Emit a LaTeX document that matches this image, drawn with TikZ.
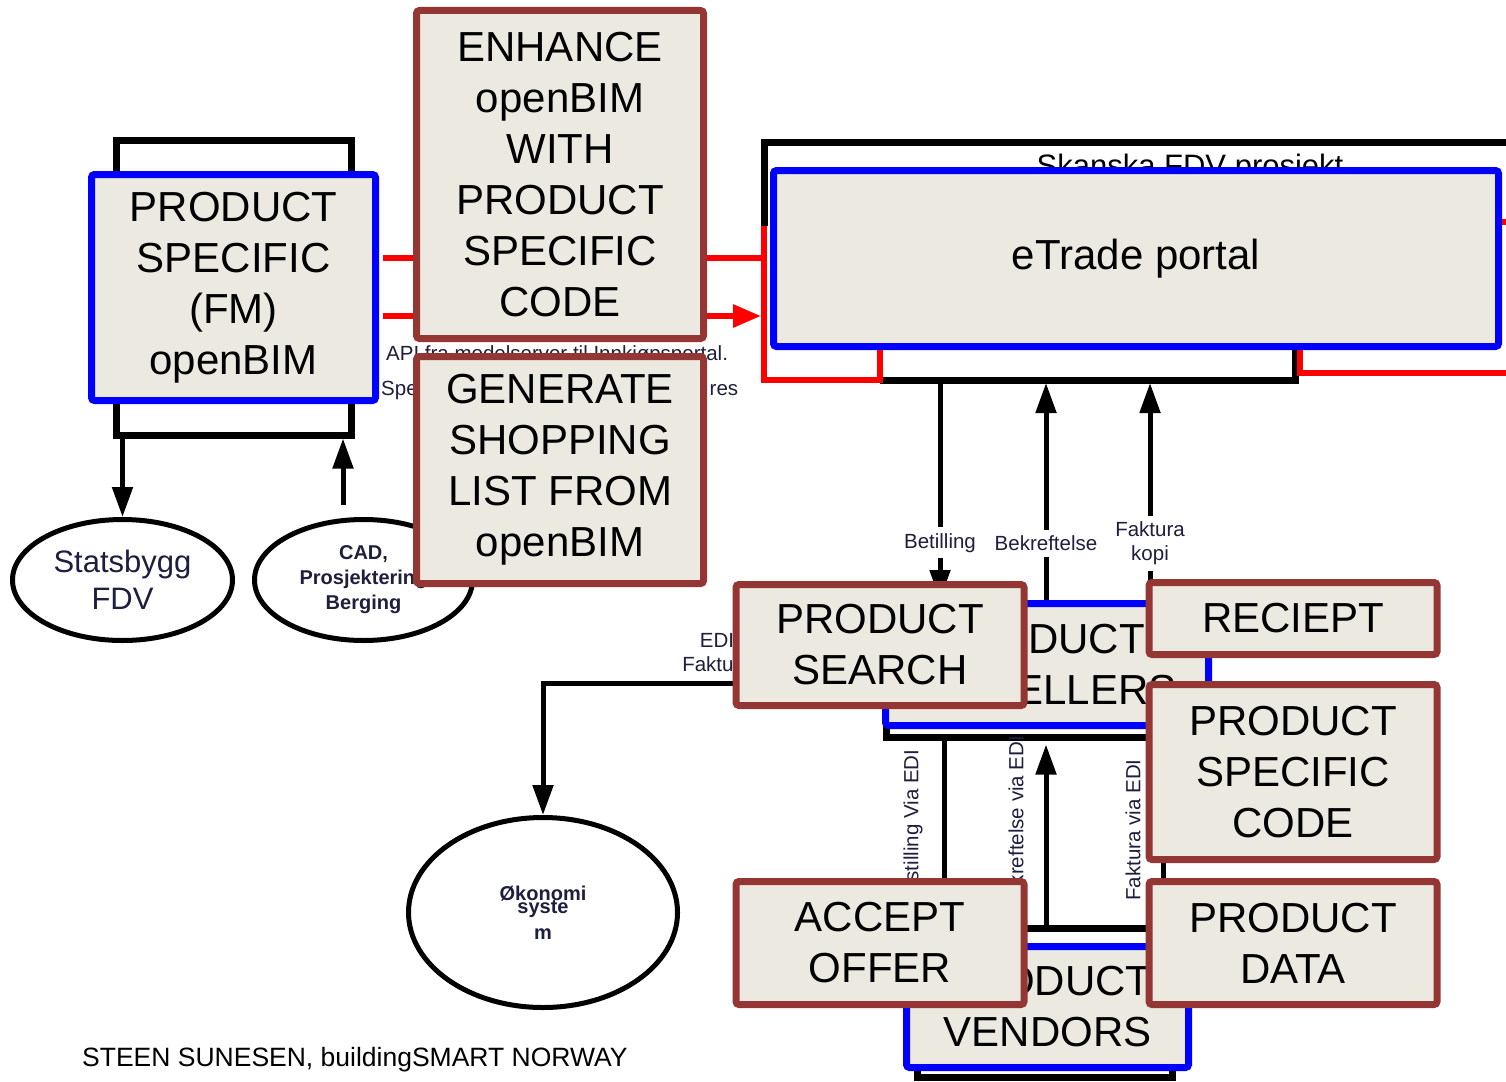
\documentclass[tikz,border=0pt]{standalone}
\usepackage{fontspec}
\setmainfont{Liberation Sans}
\usetikzlibrary{shapes.geometric,arrows.meta}
\definecolor{taskred}{RGB}{148,54,52}
\definecolor{boxfill}{RGB}{236,234,224}
\definecolor{navy}{RGB}{30,30,62}
\newcommand{\boxfont}{\fontsize{42}{51}\selectfont}
\newcommand{\lblfont}{\fontsize{20.5}{24}\selectfont}
\newcommand{\okofont}{\fontsize{20}{13}\selectfont\bfseries\lineskiplimit=-50pt}
\tikzstyle{task}=[draw=taskred, line width=7pt, fill=boxfill, rounded corners=3pt, inner sep=0pt, align=center, font=\boxfont, minimum width=288pt]
\tikzstyle{sysbox}=[draw=blue, line width=7pt, fill=boxfill, rounded corners=3pt, inner sep=0pt, align=center, font=\boxfont]
\tikzstyle{bframe}=[draw, line width=7pt, inner sep=0pt]
\tikzstyle{party}=[ellipse, draw, line width=5pt, inner sep=0pt, align=center, text=navy]
\tikzstyle{lbl}=[font=\lblfont, text=navy, align=center, inner sep=0pt]
\tikzstyle{lblgap}=[fill=white, inner sep=6pt]
\tikzstyle{arr}=[draw, line width=5pt, -{Triangle[width=20pt,length=30pt]}]
\tikzstyle{redline}=[draw=red, line width=6pt]
\providecommand{\task}{\node[task]}
\providecommand{\sysbox}{\node[sysbox]}

\begin{document}
\begin{tikzpicture}[x=1pt,y=-1pt]
\useasboundingbox[fill=white] (0,0) rectangle (1506,1081);

% frames behind the systems
\node[bframe, minimum width=235pt, minimum height=295pt] (fmframe) at (233.5,287.5) {};
\node[bframe, minimum width=299pt, minimum height=97pt] (sellersframe) at (1035.5,688.5) {};
\node[bframe, minimum width=255pt, minimum height=149pt] (vendorsframe) at (1044.5,1002.5) {};
\draw[line width=7pt] (764,226) -- (764,142) -- (1510,142);
\draw[line width=7pt] (880,380) -- (1295,380) -- (1295,349);
\draw[redline] (764,226) -- (764,380) -- (880,380) -- (880,349);
\draw[redline] (1300,349) -- (1300,373) -- (1510,373);
\draw[redline] (1502,222) -- (1510,222);

% texts under the boxes
\node[font=\fontsize{31}{35}\selectfont, anchor=base, inner sep=0pt] (skanska) at (1190,176) {Skanska FDV prosjekt};
\node[lbl, anchor=west] (api) at (386,355) {API fra modelserver til Innkjøpsportal.};
\node[lbl, anchor=west, text width=357pt, align=left] (spec) at (381,390) {Spe\hfill res};
\node[lbl] (edi) at (717,653) {EDI\\Faktura};
\node[lbl, rotate=90] (bestedi) at (913,828) {Bestilling Via EDI};
\node[lbl, rotate=90] (bekedi) at (1016,823) {Bekreftelse via EDI};
\node[lbl, rotate=90] (fakedi) at (1133,830) {Faktura via EDI};

% systems
\sysbox[minimum width=284pt, minimum height=226pt] (fm) at (233.5,287.5) {PRODUCT\\SPECIFIC\\(FM)\\openBIM};
\sysbox[minimum width=725pt, minimum height=176pt] (etrade) at (1136,258.5) {eTrade portal};
\sysbox[minimum width=323pt, minimum height=122pt] (sellers) at (1047,664.5) {PRODUCT\hspace*{12pt}\\\hspace*{70pt}SELLERS};
\sysbox[minimum width=282pt, minimum height=121pt] (vendors) at (1047.5,1007) {PRODUCT\\VENDORS};

\node[party, minimum width=220pt, minimum height=121pt, font=\fontsize{31}{37}\selectfont] (stat) at (122.5,580) {Statsbygg\\FDV};
\node[party, minimum width=218pt, minimum height=121pt, font=\fontsize{20}{25}\selectfont\bfseries] (cad) at (363.5,580) {CAD,\\Prosjektering\\Berging};
\node[party, minimum width=269pt, minimum height=190pt, font=\okofont] (okonomi) at (543,912.5) {Økonomi\\syste\\[13pt]m};

% connectors
\coordinate (redbar) at (764,300);
\coordinate (r1) at (0,258);
\coordinate (r2) at (0,316);
\coordinate (bet) at (940,380);
\coordinate (bek) at (1046,383);
\coordinate (fak) at (1150,383);
\coordinate (cadtop) at (343,505);
\coordinate (ek) at (0,683);
\coordinate (bes) at (944,0);
\coordinate (bkv) at (1046,0);
\coordinate (fkv) at (1163,0);

\draw[redline, shorten <=3.5pt] (fm.east |- r1) -- (redbar |- r1);
\draw[redline, shorten <=3.5pt, shorten >=3pt, -{Triangle[width=22pt,length=28pt]}] (fm.east |- r2) -- (redbar |- r2);
\draw[arr] (stat.north |- fmframe.south) -- (stat.north);
\draw[arr] (cadtop) -- (cadtop |- fmframe.south);
\draw[arr] (bet) -- (bet |- sellers.north) node[lbl, lblgap, pos=0.74] {Betilling};
\draw[arr] (bek |- sellers.north) -- (bek) node[lbl, lblgap, pos=0.26] {Bekreftelse};
\draw[arr] (fak |- sellers.north) -- (fak) node[lbl, lblgap, pos=0.26] {Faktura\\kopi};
\draw[arr] (sellersframe.south -| bes) -- (vendorsframe.north -| bes);
\draw[arr, shorten >=4pt] (vendorsframe.north -| bkv) -- (sellersframe.south -| bkv);
\draw[arr] (vendorsframe.north -| fkv) -- (sellersframe.south -| fkv);
\draw[arr] (sellers.west |- ek) -| (okonomi.north);

% tasks
\task[minimum width=287pt, minimum height=328pt] (enhance) at (560,174.5) {ENHANCE\\openBIM\\WITH\\PRODUCT\\SPECIFIC\\CODE};
\task[minimum width=287pt, minimum height=227pt] (generate) at (560,470) {GENERATE\\SHOPPING\\LIST FROM\\openBIM};
\task[minimum height=121pt] (search) at (880,645) {PRODUCT\\SEARCH};
\task[minimum height=72pt] (reciept) at (1293,618.5) {RECIEPT};
\task[minimum height=175pt] (code) at (1293,772) {PRODUCT\\SPECIFIC\\CODE};
\task[minimum height=123pt] (accept) at (880,943) {ACCEPT\\OFFER};
\task[minimum height=123pt] (data) at (1293,943) {PRODUCT\\DATA};

\node[anchor=west, inner sep=0pt, font=\fontsize{26.5}{30}\selectfont] (credit) at (82,1060) {STEEN SUNESEN, buildingSMART NORWAY};
\end{tikzpicture}
\end{document}
